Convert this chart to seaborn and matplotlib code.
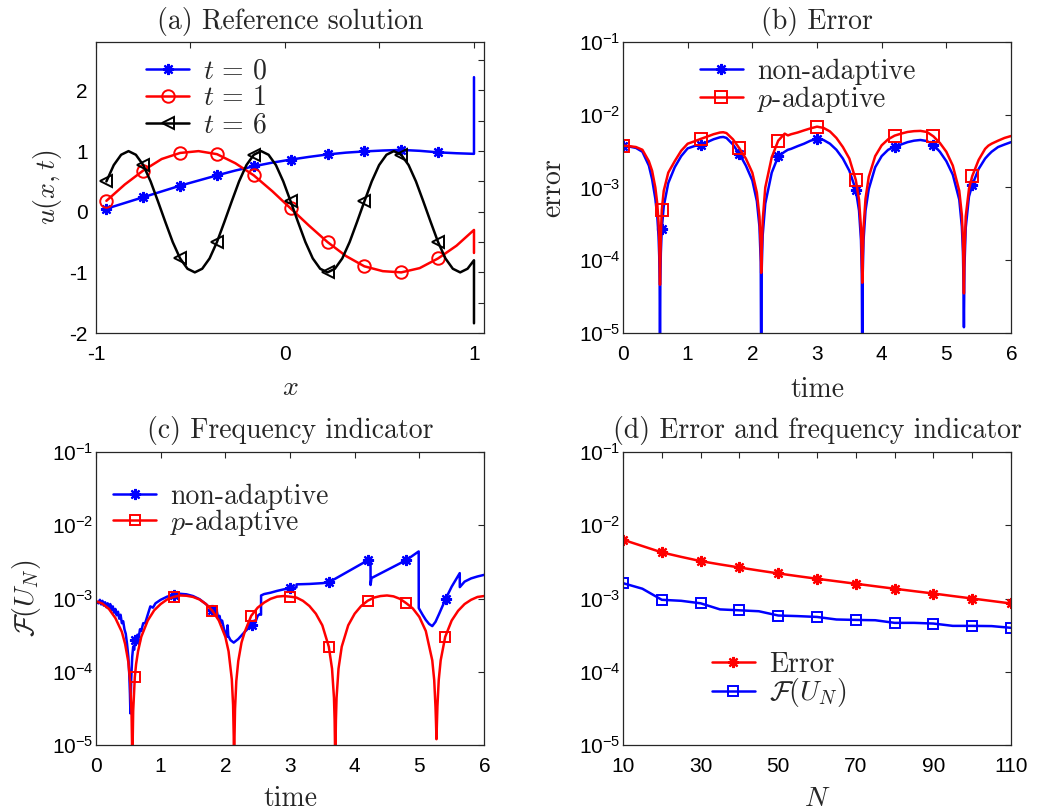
import numpy as np
import matplotlib
matplotlib.use("Agg")
import matplotlib.pyplot as plt
import seaborn as sns
from matplotlib.ticker import NullLocator

# ------------------------------------------------------------------ data
# (a) reference solution
xa_smooth = [-0.945, -0.8475, -0.75, -0.6525, -0.555, -0.4575, -0.36, -0.2625, -0.165, -0.0675,
             0.03, 0.1275, 0.225, 0.3225, 0.42, 0.5175, 0.615, 0.7125, 0.81, 0.9075, 1.0, 1.0]
u_t0 = [0.05, 0.145, 0.24, 0.335, 0.43, 0.515, 0.60, 0.68, 0.75, 0.81,
        0.86, 0.905, 0.945, 0.975, 0.995, 1.01, 1.02, 1.005, 0.98, 0.965, 0.955, 2.22]
u_t1 = [0.18, 0.45, 0.68, 0.87, 0.97, 1.0, 0.95, 0.80, 0.60, 0.34,
        0.055, -0.23, -0.50, -0.73, -0.90, -0.98, -1.0, -0.93, -0.77, -0.56, -0.30, -0.68]
xa_t6 = [-0.945, -0.906, -0.867, -0.828, -0.789, -0.750, -0.711, -0.672, -0.633, -0.594,
         -0.555, -0.516, -0.477, -0.438, -0.399, -0.360, -0.321, -0.282, -0.243, -0.204,
         -0.165, -0.126, -0.087, -0.048, -0.009, 0.030, 0.069, 0.108, 0.147, 0.186,
         0.225, 0.264, 0.303, 0.342, 0.381, 0.420, 0.459, 0.498, 0.537, 0.576,
         0.615, 0.654, 0.693, 0.732, 0.771, 0.810, 0.849, 0.888, 0.927, 0.966, 1.0, 1.0]
u_t6 = [0.50, 0.77, 0.94, 1.00, 0.94, 0.77, 0.50, 0.17, -0.17, -0.50,
        -0.77, -0.94, -1.00, -0.94, -0.77, -0.50, -0.17, 0.17, 0.50, 0.77,
        0.94, 1.00, 0.94, 0.77, 0.50, 0.17, -0.17, -0.50, -0.77, -0.94,
        -1.00, -0.94, -0.77, -0.50, -0.17, 0.17, 0.50, 0.77, 0.94, 1.00,
        0.94, 0.77, 0.50, 0.17, -0.17, -0.50, -0.77, -0.94, -1.00, -0.94, -0.80, -1.84]

# (b) error vs time
t_b = [0, 0.1, 0.2, 0.3, 0.4, 0.45, 0.5, 0.53, 0.55, 0.56,
       0.567, 0.572, 0.577, 0.585, 0.6, 0.63, 0.7, 0.8, 0.9, 1.0,
       1.1, 1.2, 1.3, 1.4, 1.5, 1.55, 1.6, 1.7, 1.8, 1.9,
       2.0, 2.07, 2.11, 2.13, 2.137, 2.145, 2.16, 2.2, 2.3, 2.4,
       2.5, 2.55, 2.6, 2.7, 2.8, 2.9, 3.0, 3.1, 3.2, 3.3,
       3.4, 3.5, 3.6, 3.65, 3.68, 3.693, 3.70, 3.707, 3.72, 3.75,
       3.8, 3.9, 4.0, 4.1, 4.2, 4.3, 4.4, 4.5, 4.6, 4.7,
       4.8, 4.9, 5.0, 5.1, 5.2, 5.24, 5.257, 5.265, 5.272, 5.28,
       5.3, 5.35, 5.4, 5.5, 5.6, 5.65, 5.7, 5.8, 5.9, 6.0]
err_nonadapt = [3.76e-3, 3.65e-3, 3.5e-3, 3.1e-3, 2.0e-3, 1.3e-3, 7e-4, 4e-4, 2.1e-4, 1.15e-4,
                4.8e-5, 2e-6, 4.8e-5, 1.25e-4, 2.7e-4, 5.5e-4, 1.15e-3, 1.9e-3, 2.7e-3, 3.45e-3,
                3.7e-3, 3.9e-3, 4.2e-3, 4.6e-3, 4.9e-3, 4.95e-3, 4.8e-3, 3.9e-3, 2.9e-3, 2.0e-3,
                1.25e-3, 6.5e-4, 2.9e-4, 9.5e-5, 2e-6, 7.5e-5, 2.2e-4, 6e-4, 1.6e-3, 2.68e-3,
                3.1e-3, 3.3e-3, 3.4e-3, 3.7e-3, 4.0e-3, 4.4e-3, 4.65e-3, 4.5e-3, 4.0e-3, 3.3e-3,
                2.5e-3, 1.7e-3, 9.3e-4, 4.8e-4, 1.9e-4, 6.5e-5, 2e-6, 6.5e-5, 1.9e-4, 4.8e-4,
                9.5e-4, 1.9e-3, 2.7e-3, 3.3e-3, 3.64e-3, 3.9e-3, 4.2e-3, 4.4e-3, 4.5e-3, 4.35e-3,
                3.88e-3, 3.1e-3, 2.3e-3, 1.5e-3, 6.8e-4, 2.9e-4, 1.3e-4, 5e-5, 1.2e-5, 8e-5,
                2.8e-4, 7.5e-4, 1.08e-3, 1.8e-3, 2.5e-3, 2.8e-3, 3.1e-3, 3.6e-3, 3.9e-3, 4.2e-3]
err_padapt = [3.76e-3, 3.7e-3, 3.6e-3, 3.3e-3, 2.3e-3, 1.7e-3, 1.0e-3, 6e-4, 3.3e-4, 1.9e-4,
              9e-5, 4.6e-5, 9e-5, 2.2e-4, 4.95e-4, 9e-4, 1.6e-3, 2.3e-3, 3.2e-3, 4.0e-3,
              4.3e-3, 4.65e-3, 5.0e-3, 5.4e-3, 5.7e-3, 5.75e-3, 5.6e-3, 4.6e-3, 3.45e-3, 2.5e-3,
              1.6e-3, 8.5e-4, 4e-4, 1.6e-4, 6.7e-5, 1.3e-4, 3.5e-4, 1.0e-3, 2.6e-3, 4.4e-3,
              5.5e-3, 5.2e-3, 5.4e-3, 5.7e-3, 6.1e-3, 6.5e-3, 6.86e-3, 6.6e-3, 5.9e-3, 4.8e-3,
              3.6e-3, 2.5e-3, 1.27e-3, 6.8e-4, 2.8e-4, 1.1e-4, 4.9e-5, 1.1e-4, 2.8e-4, 7e-4,
              1.4e-3, 2.7e-3, 3.8e-3, 4.6e-3, 5.16e-3, 5.5e-3, 5.8e-3, 5.95e-3, 6.0e-3, 5.8e-3,
              5.05e-3, 4.1e-3, 3.1e-3, 2.0e-3, 9e-4, 4.2e-4, 1.9e-4, 8e-5, 3.5e-5, 1.2e-4,
              4e-4, 9.5e-4, 1.43e-3, 2.4e-3, 3.4e-3, 3.76e-3, 4.0e-3, 4.4e-3, 4.8e-3, 5.1e-3]
marks_b = [0, 0.6, 1.2, 1.8, 2.4, 3.0, 3.6, 4.2, 4.8, 5.4]

# (c) frequency indicator vs time
t_c_non = [0.0, 0.04, 0.06, 0.08, 0.10, 0.12, 0.14, 0.16, 0.18, 0.20,
           0.22, 0.24, 0.26, 0.28, 0.30, 0.32, 0.34, 0.36, 0.38, 0.40,
           0.42, 0.44, 0.46, 0.48, 0.50, 0.515, 0.525, 0.532, 0.545, 0.56,
           0.575, 0.59, 0.605, 0.62, 0.64, 0.66, 0.68, 0.70, 0.73, 0.76,
           0.80, 0.84, 0.88, 0.92, 1.0, 1.1, 1.2, 1.3, 1.4, 1.5,
           1.6, 1.7, 1.8, 1.83, 1.85, 1.87, 1.89, 1.91, 1.93, 1.95,
           1.98, 2.03, 2.035, 2.045, 2.08, 2.13, 2.2, 2.3, 2.41, 2.45,
           2.47, 2.5, 2.53, 2.552, 2.553, 2.6, 2.7, 2.8, 2.9, 3.0,
           3.1, 3.101, 3.3, 3.5, 3.6, 4.21, 4.245, 4.246, 4.26, 4.8,
           4.99, 4.991, 5.05, 5.1, 5.15, 5.2, 5.25, 5.3, 5.41, 5.5,
           5.625, 5.626, 5.7, 5.8, 5.9, 6.0]
F_nonadapt = [9.0e-4, 8.6e-4, 9.6e-4, 8.3e-4, 9.3e-4, 8.0e-4, 8.9e-4, 7.6e-4, 8.6e-4, 7.3e-4,
              8.4e-4, 6.9e-4, 7.8e-4, 6.4e-4, 7.2e-4, 5.9e-4, 6.6e-4, 5.3e-4, 6.0e-4, 4.6e-4,
              4.9e-4, 3.8e-4, 3.3e-4, 2.4e-4, 1.6e-4, 9e-5, 5e-5, 2.7e-5, 8e-5, 1.6e-4,
              2.2e-4, 2.0e-4, 2.7e-4, 2.4e-4, 3.2e-4, 2.9e-4, 3.8e-4, 3.6e-4, 4.6e-4, 4.6e-4,
              6.0e-4, 7.8e-4, 7.5e-4, 8.6e-4, 9.6e-4, 1.06e-3, 1.12e-3, 1.16e-3, 1.14e-3, 1.08e-3,
              9.8e-4, 8.4e-4, 6.9e-4, 7.3e-4, 6.1e-4, 6.6e-4, 5.4e-4, 5.8e-4, 4.7e-4, 5.0e-4,
              3.8e-4, 3.0e-4, 4.3e-4, 3.1e-4, 2.7e-4, 2.5e-4, 2.8e-4, 3.5e-4, 4.4e-4, 5.0e-4,
              4.9e-4, 5.8e-4, 6.1e-4, 6.0e-4, 1.1e-3, 1.15e-3, 1.2e-3, 1.27e-3, 1.33e-3, 1.37e-3,
              1.42e-3, 1.56e-3, 1.58e-3, 1.62e-3, 1.66e-3, 3.35e-3, 3.45e-3, 1.53e-3, 1.9e-3, 3.35e-3,
              4.39e-3, 7.4e-4, 6.0e-4, 5.1e-4, 4.5e-4, 4.2e-4, 4.8e-4, 6.0e-4, 1.0e-3, 1.45e-3,
              2.22e-3, 1.43e-3, 1.7e-3, 1.88e-3, 2.0e-3, 2.1e-3]
t_c_pad = [0, 0.1, 0.2, 0.3, 0.4, 0.45, 0.5, 0.53, 0.55, 0.557,
           0.562, 0.567, 0.575, 0.6, 0.62, 0.65, 0.7, 0.8, 0.9, 1.0,
           1.1, 1.2, 1.3, 1.4, 1.5, 1.6, 1.7, 1.8, 1.9, 2.0,
           2.05, 2.1, 2.12, 2.13, 2.136, 2.142, 2.15, 2.17, 2.2, 2.25,
           2.3, 2.4, 2.5, 2.6, 2.7, 2.8, 2.9, 3.0, 3.1, 3.2,
           3.3, 3.4, 3.5, 3.6, 3.65, 3.68, 3.69, 3.695, 3.70, 3.705,
           3.71, 3.72, 3.75, 3.8, 3.9, 4.0, 4.1, 4.2, 4.3, 4.4,
           4.5, 4.6, 4.7, 4.8, 4.9, 5.0, 5.1, 5.2, 5.23, 5.25,
           5.258, 5.265, 5.272, 5.28, 5.3, 5.33, 5.4, 5.5, 5.6, 5.7,
           5.8, 5.9, 6.0]
F_padapt = [9.2e-4, 8.5e-4, 7.2e-4, 5.4e-4, 3.5e-4, 2.4e-4, 1.36e-4, 7e-5, 2.6e-5, 1.1e-5,
            1e-6, 1.1e-5, 2.9e-5, 8.4e-5, 1.27e-4, 1.9e-4, 3.0e-4, 5.0e-4, 6.9e-4, 8.4e-4,
            9.7e-4, 1.05e-3, 1.1e-3, 1.09e-3, 1.05e-3, 9.7e-4, 8.4e-4, 6.8e-4, 5.0e-4, 3.0e-4,
            1.9e-4, 7.9e-5, 3.5e-5, 1.3e-5, 1e-6, 1.3e-5, 3.1e-5, 7.5e-5, 1.4e-4, 2.5e-4,
            3.5e-4, 5.8e-4, 7.5e-4, 8.8e-4, 9.9e-4, 1.06e-3, 1.08e-3, 1.06e-3, 1.03e-3, 9.3e-4,
            7.9e-4, 6.2e-4, 4.3e-4, 2.2e-4, 1.1e-4, 4.4e-5, 2.2e-5, 1.1e-5, 1e-6, 1.1e-5,
            2.2e-5, 4.4e-5, 1.1e-4, 2.2e-4, 4.3e-4, 6.2e-4, 7.9e-4, 9.3e-4, 1.03e-3, 1.08e-3,
            1.1e-3, 1.07e-3, 9.9e-4, 8.6e-4, 7.3e-4, 5.6e-4, 3.6e-4, 1.43e-4, 7.7e-5, 3.3e-5,
            2.0e-5, 1.2e-5, 2.0e-5, 3.4e-5, 7.7e-5, 1.43e-4, 3.0e-4, 5.0e-4, 6.8e-4, 8.4e-4,
            9.6e-4, 1.05e-3, 1.08e-3]
marks_c = [0.6, 1.2, 1.8, 2.4, 3.0, 3.6, 4.2, 4.8, 5.4]

# (d) error and indicator vs N
N_vals = [10, 15, 20, 25, 30, 35, 40, 45, 50, 55, 60, 65, 70, 75, 80, 85, 90, 95, 100, 105, 110]
err_N = [6.34e-3, 5.2e-3, 4.26e-3, 3.7e-3, 3.24e-3, 2.92e-3, 2.65e-3, 2.41e-3, 2.20e-3, 2.02e-3,
         1.86e-3, 1.72e-3, 1.59e-3, 1.47e-3, 1.36e-3, 1.26e-3, 1.17e-3, 1.08e-3, 1.0e-3, 9.25e-4, 8.55e-4]
F_N = [1.62e-3, 1.36e-3, 9.6e-4, 9.3e-4, 8.6e-4, 7.1e-4, 6.9e-4, 6.7e-4, 5.86e-4, 5.75e-4,
       5.6e-4, 5.17e-4, 5.1e-4, 5.05e-4, 4.65e-4, 4.65e-4, 4.55e-4, 4.23e-4, 4.23e-4, 4.2e-4, 3.98e-4]

# tick labels
log_ticks = [1e-5, 1e-4, 1e-3, 1e-2, 1e-1]
log_labels = ['10$^{-5}$', '10$^{-4}$', '10$^{-3}$', '10$^{-2}$', '10$^{-1}$']
a_xticks = [-1, -0.5, 0, 0.5, 1]
a_xlabels = ['-1', '', '0', '', '1']
a_yticks = [-2, -1.5, -1, -0.5, 0, 0.5, 1, 1.5, 2, 2.5]
a_ylabels = ['-2', '', '-1', '', '0', '', '1', '', '2', '']
time_ticks = [0, 1, 2, 3, 4, 5, 6]
d_xticks = [10, 20, 30, 40, 50, 60, 70, 80, 90, 100, 110]
d_xlabels = ['10', '', '30', '', '50', '', '70', '', '90', '', '110']

# ------------------------------------------------------------------ style
sns.set_style("white")
plt.rcParams['font.family'] = ['Liberation Sans', 'DejaVu Sans']
plt.rcParams['mathtext.fontset'] = 'cm'
plt.rcParams['mathtext.rm'] = 'Liberation Sans'
plt.rcParams['mathtext.it'] = 'Liberation Sans:italic'
plt.rcParams['mathtext.bf'] = 'Liberation Sans:bold'
plt.rcParams['mathtext.sf'] = 'Liberation Sans'
plt.rcParams['axes.unicode_minus'] = False
plt.rcParams['axes.formatter.use_mathtext'] = True

SERIF = 'cmr10'
BLUE, RED, BLACK = '#0000ff', '#ff0000', '#000000'
AST = (8, 2, 0)
LW = 1.8

W, H = 1039, 811
fig = plt.figure(figsize=(W / 100, H / 100), dpi=100)


def add_ax(l, t, r, b):
    return fig.add_axes([l / W, 1 - b / H, (r - l) / W, (b - t) / H])


axA = add_ax(96, 42, 484, 333)
axB = add_ax(623, 42, 1011, 333)
axC = add_ax(96, 452, 484, 745)
axD = add_ax(623, 452, 1011, 745)


def idx_of(t, marks):
    t = np.asarray(t, dtype=float)
    return [int(np.argmin(np.abs(t - m))) for m in marks]


def draw(ax, x, y, color, marker, every, label, ms, mew=1.4):
    sns.lineplot(x=x, y=y, ax=ax, estimator=None, sort=False, color=color, lw=LW,
                 marker=marker, markevery=every, ms=ms, mfc='none', mec=color,
                 mew=mew, label=label)


def frame(ax, ypad):
    ax.tick_params(which='both', direction='in', top=True, right=True, length=4,
                   width=0.8, color='#262626', labelsize=15, labelcolor='black')
    ax.tick_params(axis='y', pad=ypad)
    ax.tick_params(axis='x', pad=9)
    for sp in ax.spines.values():
        sp.set_color('#262626')
        sp.set_linewidth(0.9)


def legend(ax, anchor, spacing):
    leg = ax.legend(loc='upper left', bbox_to_anchor=anchor, frameon=False,
                    prop={'family': SERIF, 'size': 20}, handlelength=1.55,
                    handletextpad=0.5, labelspacing=spacing, borderpad=0, borderaxespad=0)
    return leg


def labels(ax, title, xl, yl, xly, yxl, xfam=SERIF, yfam=SERIF):
    ax.set_title(title, fontfamily=SERIF, fontsize=20, y=1.072, va='center', pad=0)
    ax.set_xlabel(xl, fontfamily=xfam, fontsize=20)
    ax.xaxis.set_label_coords(0.5, xly)
    ax.xaxis.label.set_va('center')
    if yl:
        ax.set_ylabel(yl, fontfamily=yfam, fontsize=20)
        ax.yaxis.set_label_coords(yxl, 0.5)
        ax.yaxis.label.set_va('center')


# ---------------- (a)
draw(axA, xa_smooth, u_t0, BLUE, AST, list(range(0, 20, 2)), r'$t\,=\,0$', 8, 1.6)
draw(axA, xa_smooth, u_t1, RED, 'o', list(range(0, 20, 2)), r'$t\,=\,1$', 9)
draw(axA, xa_t6, u_t6, BLACK, '<', list(range(0, 50, 5)), r'$t\,=\,6$', 9)
axA.set_xlim(-1, 1.053)
axA.set_ylim(-2, 2.8)
axA.set_xticks(a_xticks, labels=a_xlabels)
axA.set_yticks(a_yticks, labels=a_ylabels)
frame(axA, 6)
legend(axA, (0.13, 0.945), 0.03)
labels(axA, '(a) Reference solution', '$x$', '$u(x,t)$', -0.19, -0.124)

# ---------------- (b)
axB.set_yscale('log')
draw(axB, t_b, err_nonadapt, BLUE, AST, idx_of(t_b, marks_b), 'non-adaptive', 8, 1.6)
draw(axB, t_b, err_padapt, RED, 's', idx_of(t_b, marks_b), '$p$-adaptive', 8)
axB.set_xlim(0, 6)
axB.set_ylim(1e-5, 1e-1)
axB.set_xticks(time_ticks)
axB.set_yticks(log_ticks, labels=log_labels, math_fontfamily='custom')
axB.yaxis.set_minor_locator(NullLocator())
frame(axB, 2)
legend(axB, (0.198, 0.942), -0.04)
labels(axB, '(b) Error', 'time', 'error', -0.195, -0.18)

# ---------------- (c)
axC.set_yscale('log')
draw(axC, t_c_non, F_nonadapt, BLUE, AST, idx_of(t_c_non, marks_c), 'non-adaptive', 8, 1.6)
draw(axC, t_c_pad, F_padapt, RED, 's', idx_of(t_c_pad, marks_c), '$p$-adaptive', 7)
axC.set_xlim(0, 6)
axC.set_ylim(1e-5, 1e-1)
axC.set_xticks(time_ticks)
axC.set_yticks(log_ticks, labels=log_labels, math_fontfamily='custom')
axC.yaxis.set_minor_locator(NullLocator())
frame(axC, 2)
legend(axC, (0.044, 0.893), -0.1)
labels(axC, '(c) Frequency indicator', 'time', r'$\mathcal{F}(U_N)$', -0.185, -0.178)

# ---------------- (d)
axD.set_yscale('log')
draw(axD, N_vals, err_N, RED, AST, list(range(0, 21, 2)), 'Error', 8, 1.6)
draw(axD, N_vals, F_N, BLUE, 's', list(range(0, 21, 2)), r'$\mathcal{F}(U_N)$', 7)
axD.set_xlim(10, 110)
axD.set_ylim(1e-5, 1e-1)
axD.set_xticks(d_xticks, labels=d_xlabels)
axD.set_yticks(log_ticks, labels=log_labels, math_fontfamily='custom')
axD.yaxis.set_minor_locator(NullLocator())
frame(axD, 2)
legend(axD, (0.229, 0.32), -0.04)
labels(axD, '(d) Error and frequency indicator', '$N$', None, -0.185, None)

fig.savefig('out.png', dpi=100)
